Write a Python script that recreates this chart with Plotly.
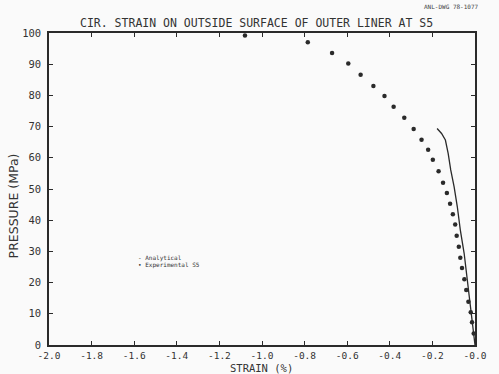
import plotly.graph_objects as go

# Experimental S5 data (strain %, pressure MPa)
exp_strain = [-1.08, -0.785, -0.671, -0.595, -0.537, -0.477, -0.425, -0.382, -0.332,
              -0.288, -0.251, -0.220, -0.198, -0.171, -0.150, -0.132, -0.117, -0.104,
              -0.093, -0.086, -0.076, -0.069, -0.061, -0.050, -0.041, -0.031, -0.020,
              -0.014, -0.006]
exp_pressure = [99.2, 97.0, 93.6, 90.2, 86.6, 83.0, 79.8, 76.4, 72.8,
                69.2, 65.8, 62.6, 59.4, 55.7, 52.0, 48.7, 45.3, 41.9,
                38.6, 35.0, 31.5, 28.0, 24.7, 21.1, 17.6, 13.9, 10.5,
                7.3, 3.7]

# Analytical curve
ana_strain = [-0.178, -0.157, -0.139, -0.126, -0.114, -0.098, -0.083, -0.069,
              -0.051, -0.033, -0.017, -0.005, 0.0]
ana_pressure = [69.4, 67.8, 65.7, 61.4, 56.1, 50.7, 44.3, 36.9,
                29.4, 18.7, 10.2, 1.6, 0.0]

x_ticks = [-2.0, -1.8, -1.6, -1.4, -1.2, -1.0, -0.8, -0.6, -0.4, -0.2, 0.0]
x_labels = ["-2.0", "-1.8", "-1.6", "-1.4", "-1.2", "-1.0", "-0.8", "-0.6", "-0.4", "-0.2", "-0.0"]
y_ticks = [0, 10, 20, 30, 40, 50, 60, 70, 80, 90, 100]
y_labels = [str(v) for v in y_ticks]

FONT = "DejaVu Sans Mono"
INK = "#2a2a2a"

fig = go.Figure()
fig.add_trace(go.Scatter(x=ana_strain, y=ana_pressure, mode="lines",
                         line=dict(color=INK, width=1.3), name="Analytical"))
fig.add_trace(go.Scatter(x=exp_strain, y=exp_pressure, mode="markers",
                         marker=dict(color=INK, size=4.5), name="Experimental S5",
                         cliponaxis=False))

axis_common = dict(showline=True, linecolor=INK, linewidth=1.6, mirror="ticks",
                   ticks="inside", ticklen=4, tickcolor=INK, showgrid=False,
                   zeroline=False)

fig.update_xaxes(range=[-2.0, 0.0], tickvals=x_ticks, ticktext=x_labels,
                 tickfont=dict(family=FONT, size=9.5, color="#333"),
                 ticklabelstandoff=1, **axis_common)
fig.update_yaxes(range=[0, 100], tickvals=y_ticks, ticktext=y_labels,
                 tickfont=dict(family=FONT, size=10.5, color="#333"),
                 ticklabelstandoff=4, **axis_common)

anns = [
    dict(text="CIR. STRAIN ON OUTSIDE SURFACE OF OUTER LINER AT S5", x=0.488, y=1.032,
         xref="paper", yref="paper", xanchor="center", yanchor="middle", showarrow=False,
         font=dict(family=FONT, size=11.5, color="#333")),
    dict(text="ANL-DWG 78-1077", x=1.014, y=1.085, xref="paper", yref="paper",
         xanchor="right", yanchor="middle", showarrow=False,
         font=dict(family=FONT, size=6, color="#444")),
    dict(text="STRAIN (%)", x=0.498, y=-0.074, xref="paper", yref="paper",
         xanchor="center", yanchor="middle", showarrow=False,
         font=dict(family=FONT, size=10.5, color="#333")),
    dict(text="PRESSURE (MPa)", x=-0.084, y=0.445, xref="paper", yref="paper",
         xanchor="center", yanchor="middle", showarrow=False, textangle=-90,
         font=dict(family="DejaVu Sans", size=12.5, color="#333")),
    dict(text="- Analytical", x=0.205, y=0.280, xref="paper", yref="paper",
         xanchor="left", yanchor="middle", showarrow=False,
         font=dict(family=FONT, size=6, color="#333")),
    dict(text="• Experimental S5", x=0.205, y=0.255, xref="paper", yref="paper",
         xanchor="left", yanchor="middle", showarrow=False,
         font=dict(family=FONT, size=6, color="#333")),
]

fig.update_layout(width=499, height=374, margin=dict(l=49, r=22, t=33, b=29),
                  paper_bgcolor="#fafafa", plot_bgcolor="#fafafa",
                  showlegend=False, annotations=anns)

fig.write_html("out.html")
